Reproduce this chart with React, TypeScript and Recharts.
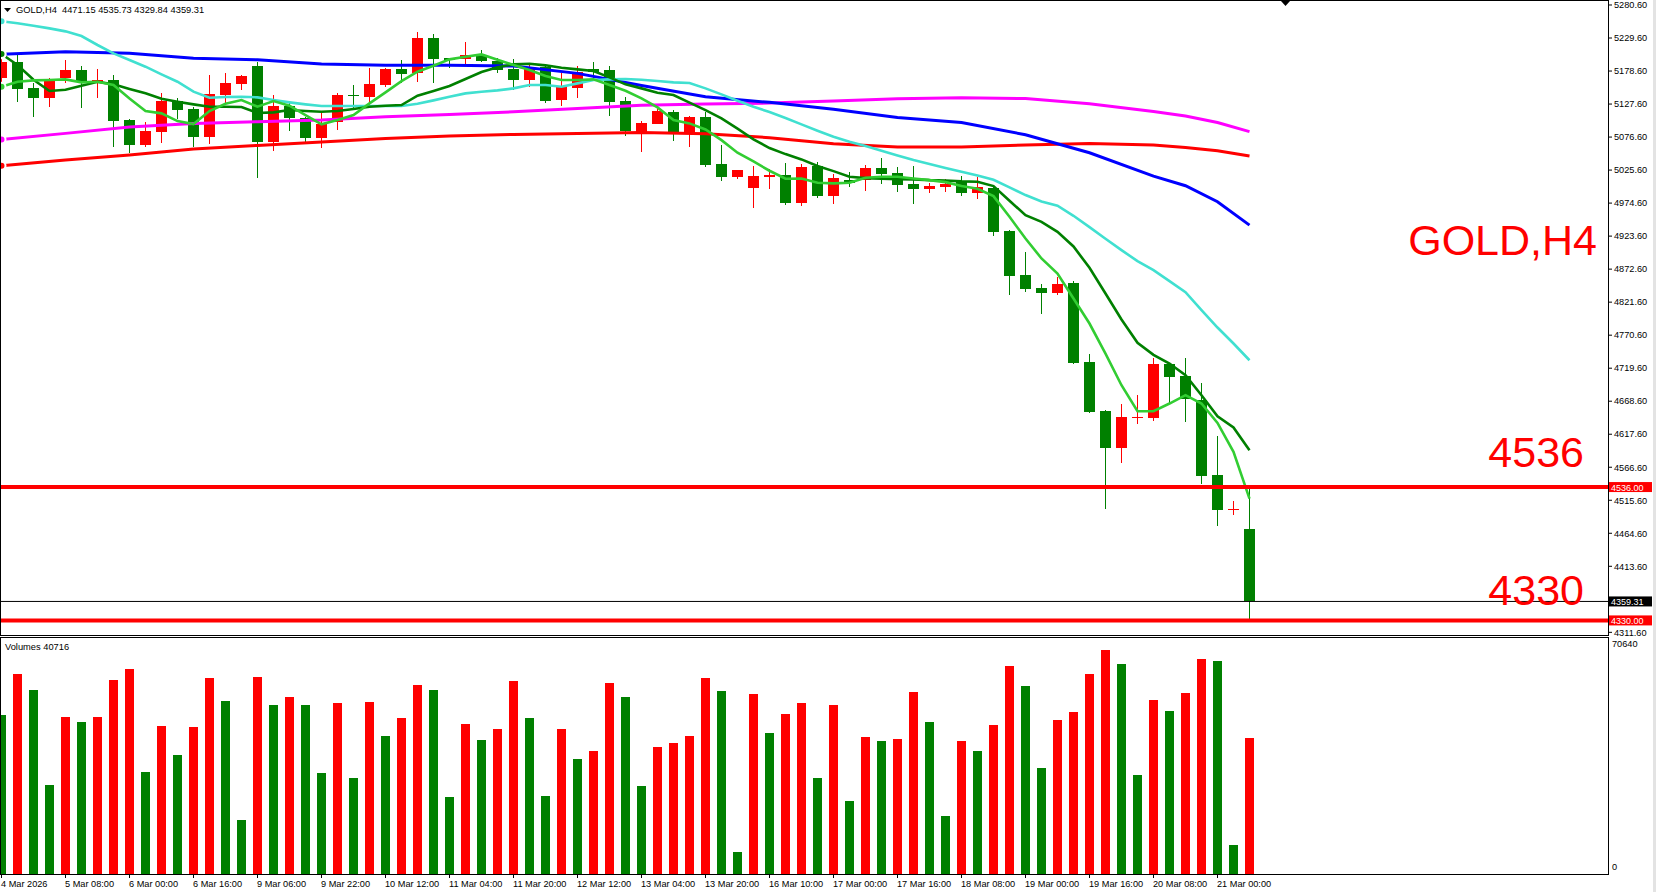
import React from "react";
import { ComposedChart, BarChart, Bar, Line, XAxis, YAxis, ReferenceLine } from "recharts";

const FONT = "'Liberation Sans', Arial, sans-serif";
const UP = "#ff0000";
const DOWN = "#008000";

const W = 1656;
const PLOT_W = 1608;
const AXIS_W = W - PLOT_W;
const X_DOMAIN: [number, number] = [-0.09375, 100.40625];
const PRICE_DOMAIN: [number, number] = [4305.93, 5288.32];

const timeLabels = [
  "4 Mar 2026", "5 Mar 08:00", "6 Mar 00:00", "6 Mar 16:00", "9 Mar 06:00",
  "9 Mar 22:00", "10 Mar 12:00", "11 Mar 04:00", "11 Mar 20:00", "12 Mar 12:00",
  "13 Mar 04:00", "13 Mar 20:00", "16 Mar 10:00", "17 Mar 00:00", "17 Mar 16:00",
  "18 Mar 08:00", "19 Mar 00:00", "19 Mar 16:00", "20 Mar 08:00", "21 Mar 00:00",
];

const priceTicks = [
  5280.6, 5229.6, 5178.6, 5127.6, 5076.6, 5025.6, 4974.6, 4923.6, 4872.6, 4821.6,
  4770.6, 4719.6, 4668.6, 4617.6, 4566.6, 4515.6, 4464.6, 4413.6, 4311.6,
];

const opens = [
  5168.3, 5192.5, 5152.3, 5137.4, 5167.3, 5180.7, 5162.1, 5164.7, 5102.9, 5064.2,
  5084.8, 5132.7, 5119.9, 5077.1, 5142.0, 5159.0, 5186.8, 5069.4, 5124.5, 5105.4,
  5074.5, 5099.3, 5141.5, 5138.9, 5157.0, 5181.7, 5175.0, 5229.6, 5198.2, 5196.6,
  5203.3, 5194.6, 5181.7, 5165.2, 5185.3, 5134.3, 5152.8, 5181.2, 5180.1, 5132.2,
  5083.8, 5097.2, 5115.2, 5083.3, 5107.5, 5034.9, 5015.3, 4998.3, 5015.3, 5017.9,
  4975.1, 5031.8, 4985.4, 5010.1, 5010.1, 5028.7, 5020.4, 5003.9, 4996.7, 4999.8,
  5007.0, 4990.6, 4997.3, 4931.3, 4863.3, 4843.2, 4836.0, 4850.9, 4728.8, 4653.1,
  4596.5, 4642.8, 4642.8, 4725.8, 4707.2, 4671.2, 4554.2, 4501.1, 4471.15,
];
const highs = [
  5198.2, 5203.3, 5159.5, 5167.3, 5195.6, 5186.3, 5181.7, 5172.4, 5103.9, 5100.3,
  5144.1, 5136.3, 5123.5, 5172.4, 5175.0, 5172.4, 5193.0, 5141.5, 5130.2, 5107.0,
  5113.2, 5144.1, 5157.0, 5183.7, 5182.7, 5195.6, 5239.4, 5235.8, 5199.2, 5223.9,
  5211.1, 5198.2, 5197.1, 5187.9, 5186.8, 5176.0, 5186.3, 5193.0, 5186.3, 5138.9,
  5101.3, 5119.4, 5118.3, 5108.5, 5115.8, 5064.2, 5026.5, 5031.8, 5026.6, 5035.9,
  5034.9, 5038.5, 5019.4, 5022.5, 5033.3, 5044.1, 5029.7, 5031.8, 5005.0, 5011.2,
  5016.3, 5014.3, 4999.8, 4932.9, 4898.9, 4849.4, 4860.7, 4854.0, 4741.2, 4654.7,
  4664.0, 4677.9, 4736.1, 4726.8, 4735.1, 4696.9, 4614.5, 4514.0, 4535.73,
];
const lows = [
  5149.2, 5131.2, 5108.0, 5123.5, 5159.5, 5120.9, 5137.4, 5061.6, 5052.4, 5061.6,
  5066.8, 5103.9, 5061.6, 5065.3, 5126.0, 5149.2, 5013.7, 5055.0, 5085.9, 5069.4,
  5060.1, 5087.4, 5118.3, 5123.5, 5154.4, 5159.5, 5162.1, 5160.6, 5182.7, 5188.9,
  5193.0, 5175.0, 5148.7, 5154.4, 5129.6, 5125.0, 5137.4, 5167.3, 5109.6, 5078.6,
  5053.9, 5096.2, 5070.4, 5061.7, 5030.7, 5009.1, 5012.2, 4967.4, 4996.7, 4971.5,
  4970.5, 4982.8, 4973.0, 4998.8, 4993.7, 5004.0, 4992.1, 4973.0, 4990.5, 4992.1,
  4985.4, 4980.8, 4923.6, 4832.9, 4837.5, 4803.5, 4832.9, 4726.8, 4650.5, 4502.7,
  4573.3, 4634.1, 4638.7, 4665.0, 4636.6, 4540.3, 4475.9, 4492.4, 4329.84,
];
const closes = [
  5193.0, 5151.3, 5137.4, 5166.2, 5180.7, 5162.1, 5164.7, 5101.8, 5064.7, 5085.9,
  5132.2, 5118.8, 5077.1, 5143.0, 5160.0, 5170.9, 5069.4, 5124.5, 5105.4, 5074.5,
  5096.7, 5141.5, 5139.4, 5158.5, 5181.7, 5174.5, 5229.6, 5197.7, 5195.1, 5203.3,
  5194.6, 5180.7, 5165.2, 5185.3, 5132.7, 5153.9, 5177.6, 5176.5, 5131.2, 5085.9,
  5097.7, 5116.8, 5084.8, 5107.5, 5033.3, 5015.3, 5025.6, 5016.3, 5017.9, 4975.1,
  5030.2, 4985.4, 5013.2, 5005.0, 5028.7, 5019.4, 5002.9, 4996.7, 5000.9, 5003.9,
  4990.5, 4998.8, 4930.3, 4862.3, 4841.7, 4836.0, 4850.4, 4727.8, 4652.1, 4596.5,
  4643.9, 4643.9, 4725.8, 4706.2, 4672.7, 4553.2, 4500.6, 4502.2, 4359.31,
];

const volumes = [
  50054, 63150, 57974, 28195, 49421, 47837, 49421, 61142, 64627, 32314,
  46570, 37382, 46253, 61776, 54490, 17107, 62093, 53222, 55757, 53222,
  31997, 53856, 30413, 54173, 43402, 49104, 59558, 57974, 24394, 47203,
  42134, 45619, 60826, 49104, 24710, 45619, 36115, 38650, 60192, 55757,
  27878, 39917, 41184, 43402, 61776, 57658, 6970, 56707, 44352, 50371,
  53856, 30413, 53222, 23126, 43085, 41818, 42451, 57341, 47837, 18374,
  41818, 38650, 46886, 65578, 59242, 33581, 48470, 51005, 63043, 70640,
  66211, 31363, 54806, 51322, 57024, 67795, 67162, 9187, 42770,
];

// fast MA (light green), per bar
const maFast = [
  5154.4, 5162.1, 5164.2, 5164.7, 5165.7, 5161.1, 5162.1, 5157.0, 5136.3, 5116.8,
  5113.2, 5101.3, 5096.7, 5116.8, 5128.1, 5133.8, 5123.5, 5132.2, 5125.0, 5110.6,
  5096.2, 5102.9, 5110.6, 5128.6, 5145.6, 5163.1, 5177.6, 5186.8, 5196.6, 5200.8,
  5204.3, 5196.1, 5187.9, 5180.1, 5170.9, 5164.7, 5164.7, 5165.7, 5157.0, 5148.2,
  5136.3, 5122.4, 5102.9, 5097.7, 5088.4, 5071.9, 5052.4, 5038.9, 5024.6, 5012.2,
  5012.7, 5006.0, 5005.0, 5006.0, 5013.7, 5015.3, 5015.3, 5012.7, 5010.1, 5007.0,
  5000.9, 4996.8, 4985.4, 4953.4, 4920.0, 4889.1, 4865.9, 4827.2, 4788.6, 4742.2,
  4693.3, 4653.1, 4653.1, 4665.0, 4677.9, 4665.0, 4635.1, 4590.3, 4518.2,
];
// dark green MA, per bar
const maMid = [
  5204.9, 5187.9, 5165.2, 5147.7, 5149.7, 5155.9, 5162.1, 5158.0, 5150.8, 5144.1,
  5135.8, 5131.2, 5127.1, 5123.5, 5123.5, 5123.0, 5113.7, 5114.7, 5118.3, 5116.8,
  5115.7, 5116.8, 5119.9, 5123.5, 5125.0, 5126.0, 5140.5, 5147.7, 5155.4, 5166.2,
  5177.1, 5184.3, 5188.9, 5189.9, 5187.4, 5183.7, 5181.2, 5178.6, 5168.8, 5158.0,
  5151.8, 5145.1, 5141.5, 5129.7, 5118.3, 5105.4, 5089.5, 5073.0, 5059.6, 5050.3,
  5042.1, 5031.8, 5024.0, 5015.3, 5013.2, 5012.2, 5011.7, 5011.2, 5010.1, 5009.6,
  5008.1, 5007.6, 5000.9, 4978.2, 4956.0, 4945.7, 4930.3, 4907.6, 4874.6, 4835.0,
  4794.8, 4758.8, 4740.2, 4726.8, 4708.8, 4677.9, 4645.4, 4627.9, 4592.9,
];
// turquoise MA, per bar
const maTurq = [
  5255.5, 5252.5, 5248.5, 5244.5, 5239.9, 5232.7, 5218.8, 5205.9, 5195.6, 5185.3,
  5173.5, 5162.1, 5146.7, 5137.4, 5138.4, 5138.9, 5137.9, 5133.8, 5130.2, 5127.1,
  5124.5, 5124.5, 5124.5, 5124.5, 5124.5, 5124.5, 5128.1, 5133.3, 5138.9, 5144.1,
  5146.7, 5148.7, 5151.8, 5157.0, 5157.0, 5154.4, 5159.5, 5164.7, 5165.7, 5166.2,
  5165.2, 5163.1, 5161.1, 5160.0, 5151.8, 5142.5, 5132.7, 5123.5, 5115.2, 5106.0,
  5096.2, 5086.4, 5077.1, 5069.4, 5062.7, 5055.5, 5048.3, 5041.0, 5034.9, 5028.7,
  5023.0, 5017.4, 5010.7, 4998.8, 4987.0, 4977.2, 4970.5, 4955.0, 4937.5, 4919.5,
  4902.0, 4884.9, 4871.0, 4854.0, 4837.0, 4809.2, 4782.4, 4757.7, 4731.9,
];

// slow MAs, read at these bars only
const slowBars = [0, 4, 8, 12, 16, 20, 24, 28, 32, 36, 40, 44, 48, 52, 56, 60, 64, 68, 72, 74, 76, 78];
const maBlue = [
  5204.4, 5208.5, 5205.9, 5198.2, 5196.1, 5189.4, 5187.4, 5187.4, 5186.3, 5175.0, 5156.2,
  5138.9, 5130.2, 5119.4, 5107.0, 5099.0, 5080.2, 5052.4, 5016.3, 5001.4, 4976.7, 4940.6,
];
const maMagenta = [
  5073.0, 5082.3, 5092.0, 5097.7, 5100.3, 5102.9, 5108.0, 5111.6, 5115.7, 5120.9, 5125.8,
  5127.6, 5129.1, 5132.2, 5135.8, 5137.4, 5136.0, 5128.0, 5116.0, 5109.0, 5099.0, 5085.0,
];
const maRed = [
  5032.3, 5041.0, 5048.8, 5058.0, 5063.7, 5068.9, 5074.5, 5078.1, 5080.7, 5082.3, 5083.8,
  5081.8, 5075.6, 5066.3, 5061.1, 5061.4, 5064.2, 5066.8, 5064.2, 5060.5, 5055.5, 5047.2,
];

const rows = opens.map((o, i) => {
  const k = slowBars.indexOf(i);
  return {
    i,
    open: o,
    high: highs[i],
    low: lows[i],
    close: closes[i],
    range: [lows[i], highs[i]],
    vol: volumes[i],
    volUp: i > 0 && volumes[i] > volumes[i - 1],
    fast: maFast[i],
    mid: maMid[i],
    turq: maTurq[i],
    blue: k >= 0 ? maBlue[k] : null,
    magenta: k >= 0 ? maMagenta[k] : null,
    red: k >= 0 ? maRed[k] : null,
  };
});

const timeTicks = timeLabels.map((_, k) => k * 4);

function Candle(props: any) {
  const { x, y, width, height, payload } = props;
  if (!payload) return null;
  const top = Math.min(y, y + height);
  const h = Math.abs(height);
  const span = payload.high - payload.low || 1;
  const py = (p: number) => top + ((payload.high - p) / span) * h;
  const color = payload.close >= payload.open ? UP : DOWN;
  const cx = Math.round(x + width / 2 - 0.5);
  const bTop = py(Math.max(payload.open, payload.close));
  const bBot = py(Math.min(payload.open, payload.close));
  return (
    <g shapeRendering="crispEdges">
      <rect x={cx} y={top} width={1} height={h} fill={color} />
      <rect x={cx - 5} y={bTop} width={11} height={Math.max(1, bBot - bTop)} fill={color} />
    </g>
  );
}

function VolumeBar(props: any) {
  const { x, y, width, height, payload } = props;
  if (!payload) return null;
  return (
    <rect x={Math.round(x)} y={y} width={width} height={height} fill={payload.volUp ? UP : DOWN} shapeRendering="crispEdges" />
  );
}

function PriceTag(props: any) {
  const { viewBox, text, bg, big, bigDy } = props;
  if (!viewBox) return null;
  const y = viewBox.y;
  const right = viewBox.x + viewBox.width;
  return (
    <g>
      {big ? (
        <text x={right - 24} y={y + bigDy} textAnchor="end" fontSize={43} fill={UP} fontFamily={FONT}>
          {big}
        </text>
      ) : null}
      <rect x={right + 1} y={y - 5} width={43} height={10} fill={bg} />
      <text x={right + 3} y={y + 3.5} fontSize={9} fill="#fff" fontFamily={FONT}>
        {text}
      </text>
    </g>
  );
}

function TimeTick(props: any) {
  const { x, y, payload } = props;
  const px = Math.floor(x) + 0.5;
  return (
    <g>
      <line x1={px} x2={px} y1={y} y2={y + 4} stroke="#000" />
      <text x={Math.floor(x)} y={y + 13} fontSize={9.2} fill="#000" fontFamily={FONT}>
        {timeLabels[payload.value / 4]}
      </text>
    </g>
  );
}

function VolumeTick(props: any) {
  const { y, payload } = props;
  return (
    <text x={PLOT_W + 4} y={payload.value === 0 ? y - 4 : y - 3} fontSize={9.2} fill="#000" fontFamily={FONT}>
      {payload.value}
    </text>
  );
}

export default function App() {
  return (
    <div style={{ position: "absolute", left: 0, top: 0, width: W, height: 892, background: "#fff", overflow: "hidden" }}>
      <div style={{ position: "absolute", left: 0, top: 0 }}>
        <ComposedChart width={W} height={642} data={rows} margin={{ top: 0, right: 0, bottom: 6, left: 0 }}>
          <XAxis dataKey="i" type="number" domain={X_DOMAIN} hide allowDataOverflow />
          <YAxis
            orientation="right"
            width={AXIS_W}
            domain={PRICE_DOMAIN}
            allowDataOverflow
            ticks={priceTicks}
            interval={0}
            axisLine={false}
            tickSize={4}
            tickMargin={2}
            tickLine={{ stroke: "#000" }}
            tick={{ fill: "#000", fontSize: 9.2, fontFamily: FONT }}
            tickFormatter={(v: number) => v.toFixed(2)}
          />
          <Bar dataKey="range" barSize={11} shape={<Candle />} isAnimationActive={false} />
          <Line dataKey="red" stroke="#ff0000" strokeWidth={3} dot={false} connectNulls isAnimationActive={false} />
          <Line dataKey="magenta" stroke="#ff00ff" strokeWidth={3} dot={false} connectNulls isAnimationActive={false} />
          <Line dataKey="blue" stroke="#0000ff" strokeWidth={3} dot={false} connectNulls isAnimationActive={false} />
          <Line dataKey="turq" stroke="#40e0d0" strokeWidth={2.6} dot={false} isAnimationActive={false} />
          <Line dataKey="mid" stroke="#008000" strokeWidth={2.6} dot={false} isAnimationActive={false} />
          <Line dataKey="fast" stroke="#32cd32" strokeWidth={2.6} dot={false} isAnimationActive={false} />
          <ReferenceLine y={4536} stroke={UP} strokeWidth={4} label={<PriceTag text="4536.00" bg={UP} big="4536" bigDy={-20} />} />
          <ReferenceLine y={4359.31} stroke="#000" strokeWidth={1} label={<PriceTag text="4359.31" bg="#000" />} />
          <ReferenceLine y={4330} stroke={UP} strokeWidth={4} label={<PriceTag text="4330.00" bg={UP} big="4330" bigDy={-15} />} />
        </ComposedChart>
      </div>

      <div style={{ position: "absolute", left: 0, top: 637 }}>
        <BarChart width={W} height={255} data={rows} margin={{ top: 13, right: 0, bottom: 0, left: 0 }} barCategoryGap={0}>
          <XAxis
            dataKey="i"
            type="number"
            domain={X_DOMAIN}
            allowDataOverflow
            ticks={timeTicks}
            interval={0}
            height={18}
            axisLine={false}
            tickLine={false}
            tickSize={0}
            tickMargin={0}
            tick={<TimeTick />}
          />
          <YAxis
            orientation="right"
            width={AXIS_W}
            domain={[0, 70640]}
            allowDataOverflow
            ticks={[0, 70640]}
            interval={0}
            axisLine={false}
            tickLine={false}
            tick={<VolumeTick />}
          />
          <Bar dataKey="vol" barSize={9} shape={<VolumeBar />} isAnimationActive={false} />
        </BarChart>
      </div>

      <svg width={W} height={892} style={{ position: "absolute", left: 0, top: 0, pointerEvents: "none" }}>
        <rect x={0.5} y={0.5} width={PLOT_W} height={635} fill="none" stroke="#000" shapeRendering="crispEdges" />
        <rect x={0.5} y={637.5} width={PLOT_W} height={237} fill="none" stroke="#000" shapeRendering="crispEdges" />
        <rect x={1653} y={0} width={3} height={892} fill="#e3e3e3" />
        <polygon points="4,8 11,8 7.5,12" fill="#000" />
        <text x={16} y={13} fontSize={9.3} fill="#000" fontFamily={FONT} style={{ whiteSpace: "pre" }}>
          GOLD,H4  4471.15 4535.73 4329.84 4359.31
        </text>
        <polygon points="1281,1 1290,1 1285.5,6" fill="#000" />
        <text x={1597} y={255} textAnchor="end" fontSize={43} fill={UP} fontFamily={FONT}>
          GOLD,H4
        </text>
        <text x={5} y={650} fontSize={9.3} fill="#000" fontFamily={FONT}>
          Volumes 40716
        </text>
      </svg>
    </div>
  );
}
